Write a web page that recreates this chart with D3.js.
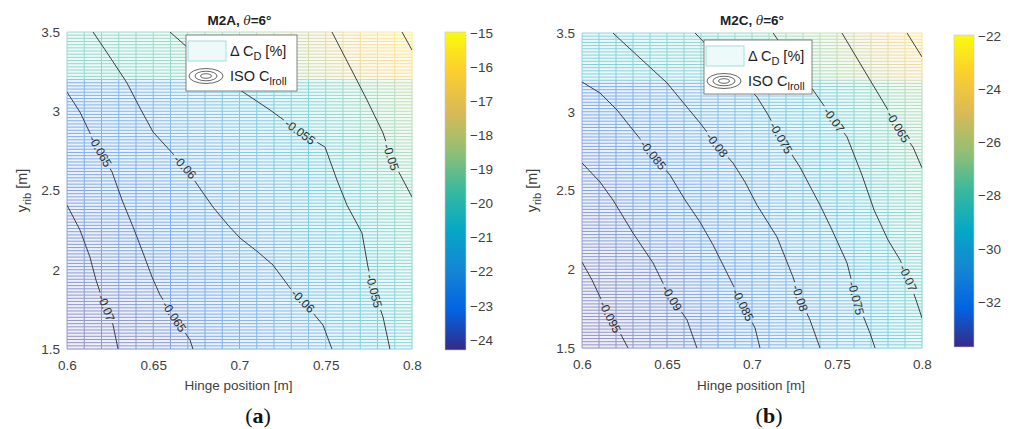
<!DOCTYPE html>
<html>
<head>
<meta charset="utf-8">
<script src="https://cdn.jsdelivr.net/npm/d3@7"></script>
<style>
  body { margin: 0; background: #fff; }
  svg text { font-family: "Liberation Sans", Arial, sans-serif; }
  .tick text { font-size: 13.5px; fill: #404040; }
  .domain { display: none; }
  .iso-label { font-size: 12px; fill: #2e2e2e; }
  .title { font-size: 13.5px; font-weight: bold; fill: #222; }
  .axis-label { font-size: 13.5px; fill: #404040; }
  .legend text { font-size: 14.5px; fill: #222; }
  svg text.caption { font-family: "Liberation Serif", "DejaVu Serif", serif; font-size: 22px; fill: #111; }
</style>
</head>
<body>
<svg width="1013" height="429"></svg>
<script>
// axis ticks
const xTicks = [0.6, 0.65, 0.7, 0.75, 0.8];
const yTicks = [1.5, 2, 2.5, 3, 3.5];
const cbTicksA = [-24, -23, -22, -21, -20, -19, -18, -17, -16, -15];
const cbTicksB = [-32, -30, -28, -26, -24, -22];

// Delta C_D [%] read at coarse nodes (rows follow yNodes, columns follow xNodes)
const xNodes = [0.6, 0.65, 0.7, 0.75, 0.8];
const yNodes = [1.5, 2.0, 2.5, 3.19, 3.21, 3.5];
const cdA = [
  [-24.3, -23.9, -23.0, -21.8, -20.2],
  [-23.9, -23.4, -22.5, -21.3, -19.9],
  [-23.5, -22.9, -22.0, -20.8, -19.3],
  [-22.9, -22.1, -21.0, -19.8, -18.3],
  [-20.0, -19.8, -19.3, -18.0, -16.5],
  [-19.8, -19.6, -19.0, -17.5, -15.4]
];
const cdB = [
  [-33.7, -33.1, -32.0, -30.6, -28.6],
  [-33.4, -32.8, -31.6, -30.2, -28.2],
  [-32.9, -32.1, -31.0, -29.5, -27.5],
  [-32.3, -31.3, -30.0, -28.5, -26.5],
  [-29.2, -28.8, -28.2, -26.8, -24.8],
  [-29.0, -28.6, -27.8, -26.2, -23.2]
];

// ISO C_lroll lines: [hinge position, y_rib] points and label anchors
const isoA = [
  { level: "-0.07", pts: [[.6,2.408],[.6075,2.251],[.6133,2.080],[.6168,1.935],[.6197,1.841],[.6267,1.651],[.6296,1.5]], labels: [[.6226,1.759]] },
  { level: "-0.065", pts: [[.6,3.121],[.6075,2.995],[.6133,2.863],[.6261,2.617],[.6319,2.44],[.6383,2.27],[.6441,2.106],[.6493,1.954],[.6539,1.841],[.6626,1.696],[.6713,1.557],[.6730,1.5]], labels: [[.6186,2.743],[.6626,1.708]] },
  { level: "-0.06", pts: [[.6151,3.5],[.6249,3.342],[.6348,3.178],[.6423,3.0205],[.6499,2.869],[.6684,2.648],[.6846,2.396],[.6933,2.282],[.7003,2.2],[.7107,2.112],[.7194,2.03],[.7293,1.885],[.7368,1.803],[.7484,1.651],[.7536,1.5]], labels: [[.6684,2.648],[.7368,1.803]] },
  { level: "-0.055", pts: [[.6597,3.5],[.6696,3.405],[.6858,3.248],[.7003,3.134],[.7177,3.008],[.7351,2.869],[.7496,2.774],[.7565,2.566],[.7623,2.408],[.7710,2.232],[.7745,2.017],[.7780,1.866],[.7832,1.702],[.7872,1.5]], labels: [[.7351,2.869],[.7780,1.866]] },
  { level: "-0.05", pts: [[.7536,3.5],[.7641,3.279],[.7739,3.071],[.7832,2.863],[.7878,2.711],[.7948,2.566],[.8,2.459]], labels: [[.7878,2.711]] },
  { level: "-0.045", pts: [[.7942,3.5],[.8,3.386]], labels: [] }
];
const isoB = [
  { level: "-0.095", pts: [[.6,2.046],[.6059,1.932],[.6106,1.824],[.6165,1.697],[.6224,1.595],[.6271,1.5]], labels: [[.6165,1.697]] },
  { level: "-0.09", pts: [[.6,2.675],[.6106,2.554],[.6182,2.44],[.63,2.23],[.6418,2.04],[.6476,1.913],[.6529,1.817],[.6618,1.678],[.6676,1.5]], labels: [[.6529,1.817]] },
  { level: "-0.085", pts: [[.6,3.189],[.6106,3.119],[.6206,3.011],[.63,2.884],[.6418,2.725],[.6518,2.598],[.6606,2.44],[.6694,2.3],[.6771,2.154],[.6859,1.963],[.6947,1.773],[.7018,1.627],[.7047,1.5]], labels: [[.6418,2.725],[.6947,1.773]] },
  { level: "-0.08", pts: [[.6182,3.5],[.6341,3.341],[.65,3.183],[.6694,2.929],[.6794,2.789],[.6888,2.675],[.6959,2.554],[.7029,2.408],[.7147,2.205],[.7241,1.951],[.7282,1.817],[.7341,1.678],[.74,1.5]], labels: [[.6794,2.789],[.7282,1.817]] },
  { level: "-0.075", pts: [[.6665,3.5],[.7029,3.094],[.7088,2.992],[.7171,2.833],[.7282,2.649],[.7353,2.503],[.74,2.408],[.7471,2.249],[.7559,2.04],[.7612,1.817],[.7694,1.595],[.7724,1.5]], labels: [[.7171,2.833],[.7612,1.817]] },
  { level: "-0.07", pts: [[.7124,3.5],[.7359,3.138],[.7482,2.948],[.7559,2.84],[.7647,2.598],[.7718,2.376],[.78,2.186],[.7871,2.059],[.7918,1.944],[.7965,1.805],[.8,1.69]], labels: [[.7482,2.948],[.7918,1.944]] },
  { level: "-0.065", pts: [[.7529,3.5],[.7694,3.202],[.78,3.011],[.7859,2.903],[.7947,2.776],[.8,2.643]], labels: [[.7859,2.903]] },
  { level: "-0.06", pts: [[.7912,3.5],[.8,3.348]], labels: [] }
];

const parula = ["#352a87", "#0363e1", "#1485d4", "#06a7c6", "#38b99e", "#92bf73", "#d9ba56", "#fcce2e", "#f9fb0e"];

const panels = [
  { id: "a", name: "M2A", grid: cdA, iso: isoA, x0: 67, x1: 412, y0: 32, y1: 349,
    cb: { x: 445, w: 21, y0: 32, y1: 350, domain: [-24.3, -14.97], ticks: cbTicksA },
    legend: { x: 186, y: 35, w: 111, h: 56 }, ylabX: 27, capX: 258 },
  { id: "b", name: "M2C", grid: cdB, iso: isoB, x0: 582, x1: 922, y0: 33, y1: 348,
    cb: { x: 954, w: 20, y0: 35, y1: 347, domain: [-33.7, -21.95], ticks: cbTicksB },
    legend: { x: 704, y: 40, w: 108, h: 54 }, ylabX: 537, capX: 769 }
];

const svg = d3.select("svg");
const defs = svg.append("defs");

function parulaScale(domain) {
  const [lo, hi] = domain;
  return d3.scaleLinear()
    .domain(parula.map((c, i) => lo + (hi - lo) * i / (parula.length - 1)))
    .range(parula).clamp(true);
}

function drawPanel(p) {
  const x = d3.scaleLinear().domain([0.6, 0.8]).range([p.x0, p.x1]);
  const y = d3.scaleLinear().domain([1.5, 3.5]).range([p.y1, p.y0]);
  const color = parulaScale(p.cb.domain);
  const rowScales = p.grid.map(r => d3.scaleLinear().domain(xNodes).range(r));
  const field = (xv, yv) => d3.scaleLinear().domain(yNodes).range(rowScales.map(s => s(xv)))(yv);

  // mesh nodes
  const meshX = d3.range(21).map(i => 0.6 + i * 0.01);
  const meshY = d3.range(101).map(j => 1.5 + j * 0.02);

  const g = svg.append("g").attr("class", "panel-" + p.id);

  const cells = [];
  for (let i = 0; i < meshX.length - 1; i++)
    for (let j = 0; j < meshY.length - 1; j++)
      cells.push({ xa: meshX[i], xb: meshX[i + 1], ya: meshY[j], yb: meshY[j + 1] });
  g.append("g").attr("opacity", 0.08).attr("shape-rendering", "crispEdges")
    .selectAll("rect").data(cells).join("rect")
      .attr("x", d => x(d.xa)).attr("y", d => y(d.yb))
      .attr("width", d => x(d.xb) - x(d.xa) + 0.5)
      .attr("height", d => y(d.ya) - y(d.yb) + 0.5)
      .attr("fill", d => color(field((d.xa + d.xb) / 2, (d.ya + d.yb) / 2)));

  const segs = [];
  meshY.forEach(yv => {
    for (let i = 0; i < meshX.length - 1; i++)
      segs.push({ xa: meshX[i], xb: meshX[i + 1], ya: yv, yb: yv });
  });
  meshX.forEach(xv => {
    for (let j = 0; j < meshY.length - 1; j++)
      segs.push({ xa: xv, xb: xv, ya: meshY[j], yb: meshY[j + 1] });
  });
  g.append("g").attr("opacity", 0.47)
    .selectAll("line").data(segs).join("line")
      .attr("x1", d => x(d.xa)).attr("x2", d => x(d.xb))
      .attr("y1", d => y(d.ya)).attr("y2", d => y(d.yb))
      .attr("stroke", d => color(field((d.xa + d.xb) / 2, (d.ya + d.yb) / 2)))
      .attr("stroke-width", 1);

  // contour lines with label gaps
  const clipId = "clip-" + p.id, maskId = "mask-" + p.id;
  defs.append("clipPath").attr("id", clipId).append("rect")
    .attr("x", p.x0).attr("y", p.y0).attr("width", p.x1 - p.x0).attr("height", p.y1 - p.y0);
  const mask = defs.append("mask").attr("id", maskId).attr("maskUnits", "userSpaceOnUse")
    .attr("x", 0).attr("y", 0).attr("width", 1013).attr("height", 429);
  mask.append("rect").attr("width", 1013).attr("height", 429).attr("fill", "#fff");

  const line = d3.line().x(d => x(d[0])).y(d => y(d[1]));
  const isoG = g.append("g").attr("clip-path", `url(#${clipId})`);
  isoG.append("g").attr("mask", `url(#${maskId})`)
    .selectAll("path").data(p.iso).join("path")
      .attr("d", d => line(d.pts))
      .attr("fill", "none").attr("stroke", "#3f3f3f").attr("stroke-width", 1);

  const labG = isoG.append("g");
  p.iso.forEach(c => {
    const px = c.pts.map(q => [x(q[0]), y(q[1])]);
    c.labels.forEach(l => {
      const lx = x(l[0]), ly = y(l[1]);
      let best = null;
      for (let k = 0; k < px.length - 1; k++) {
        const [ax, ay] = px[k], [bx, by] = px[k + 1];
        const dx = bx - ax, dy = by - ay;
        const t = Math.max(0, Math.min(1, ((lx - ax) * dx + (ly - ay) * dy) / (dx * dx + dy * dy)));
        const qx = ax + t * dx, qy = ay + t * dy;
        const dist = Math.hypot(lx - qx, ly - qy);
        if (!best || dist < best.dist) best = { dist, qx, qy, ang: Math.atan2(dy, dx) * 180 / Math.PI };
      }
      let ang = best.ang;
      if (ang > 90) ang -= 180;
      if (ang < -90) ang += 180;
      const t = labG.append("text").attr("class", "iso-label")
        .attr("text-anchor", "middle").attr("dy", "0.35em")
        .attr("transform", `translate(${best.qx},${best.qy}) rotate(${ang})`)
        .text(c.level);
      const w = t.node().getComputedTextLength() + 6;
      mask.append("rect").attr("x", -w / 2).attr("y", -6).attr("width", w).attr("height", 12)
        .attr("fill", "#000")
        .attr("transform", `translate(${best.qx},${best.qy}) rotate(${ang})`);
    });
  });

  // axes
  g.append("g").attr("transform", `translate(0,${p.y1})`)
    .call(d3.axisBottom(x).tickValues(xTicks).tickSize(0).tickPadding(11).tickFormat(d => String(d)));
  g.append("g").attr("transform", `translate(${p.x0},0)`)
    .call(d3.axisLeft(y).tickValues(yTicks).tickSize(0).tickPadding(7).tickFormat(d => String(d)));

  const cx = (p.x0 + p.x1) / 2;
  g.append("text").attr("class", "axis-label").attr("x", cx - 1).attr("y", 390)
    .attr("text-anchor", "middle").text("Hinge position [m]");
  const yl = g.append("text").attr("class", "axis-label").attr("text-anchor", "middle")
    .attr("transform", `translate(${p.ylabX},${(p.y0 + p.y1) / 2}) rotate(-90)`)
    .style("font-size", "14.5px");
  yl.append("tspan").text("y");
  yl.append("tspan").style("font-size", "11px").attr("dy", 4).text("rib");
  yl.append("tspan").attr("dy", -4).text(" [m]");

  const title = g.append("text").attr("class", "title").attr("x", cx).attr("y", 25).attr("text-anchor", "middle");
  title.append("tspan").text(p.name + ", ");
  title.append("tspan").style("font-style", "italic").style("font-weight", "normal")
    .style("font-family", "'DejaVu Serif', serif").style("font-size", "12px").text("θ");
  title.append("tspan").text("=6°");

  const cap = g.append("text").attr("class", "caption").attr("x", p.capX).attr("y", 423).attr("text-anchor", "middle");
  cap.append("tspan").text("(");
  cap.append("tspan").style("font-weight", "bold").text(p.id);
  cap.append("tspan").text(")");

  // colorbar
  const cbY = d3.scaleLinear().domain(p.cb.domain).range([p.cb.y1, p.cb.y0]);
  const gradId = "grad-" + p.id;
  const grad = defs.append("linearGradient").attr("id", gradId)
    .attr("x1", 0).attr("y1", 1).attr("x2", 0).attr("y2", 0);
  grad.selectAll("stop").data(d3.range(33).map(i => i / 32)).join("stop")
    .attr("offset", d => d)
    .attr("stop-color", d => color(p.cb.domain[0] + d * (p.cb.domain[1] - p.cb.domain[0])));
  g.append("rect").attr("x", p.cb.x).attr("y", p.cb.y0)
    .attr("width", p.cb.w).attr("height", p.cb.y1 - p.cb.y0)
    .attr("fill", `url(#${gradId})`).attr("stroke", "#c8c8c8").attr("stroke-width", 0.6);
  g.append("g").attr("transform", `translate(${p.cb.x + p.cb.w},0)`)
    .call(d3.axisRight(cbY).tickValues(p.cb.ticks).tickSize(0).tickPadding(4).tickFormat(d3.format("d")));

  // legend
  const L = p.legend;
  const lg = g.append("g").attr("class", "legend").attr("transform", `translate(${L.x},${L.y})`);
  lg.append("rect").attr("width", L.w).attr("height", L.h)
    .attr("fill", "#fff").attr("stroke", "#666").attr("stroke-width", 0.8);
  lg.append("rect").attr("x", 2).attr("y", 6).attr("width", 38).attr("height", 20)
    .attr("fill", "#eefafa").attr("stroke", "#9fdede").attr("stroke-width", 1);
  const t1 = lg.append("text").attr("x", 44).attr("y", 21);
  t1.append("tspan").text("Δ  C");
  t1.append("tspan").style("font-size", "11px").attr("dy", 4).text("D");
  t1.append("tspan").attr("dy", -4).text(" [%]");
  [[17, 7.5], [11, 4.8], [5.5, 2.3]].forEach(e => {
    lg.append("ellipse").attr("cx", 20).attr("cy", 41).attr("rx", e[0]).attr("ry", e[1])
      .attr("fill", "none").attr("stroke", "#555").attr("stroke-width", 0.9);
  });
  const t2 = lg.append("text").attr("x", 44).attr("y", 46);
  t2.append("tspan").text("ISO C");
  t2.append("tspan").style("font-size", "11px").attr("dy", 4).text("lroll");
}

panels.forEach(drawPanel);
</script>
</body>
</html>
